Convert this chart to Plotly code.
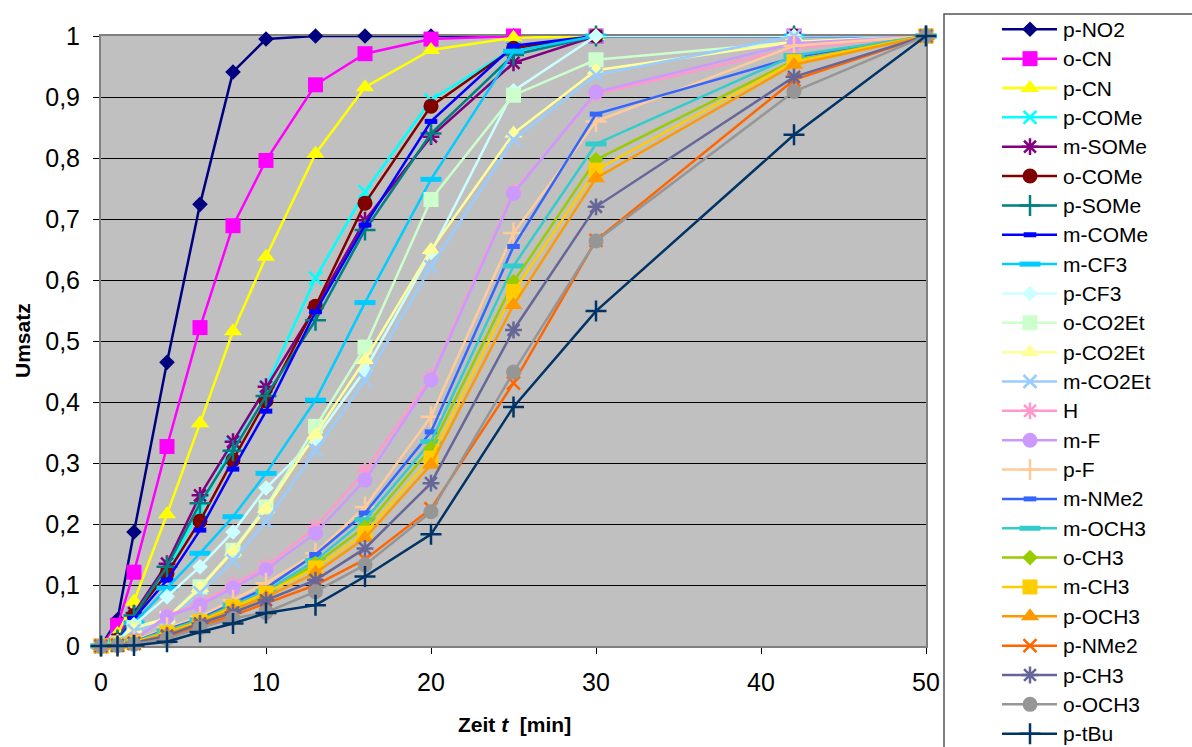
import plotly.graph_objects as go

# ---------------- data ----------------
time_min = [0, 1, 2, 4, 6, 8, 10, 13, 16, 20, 25, 30, 42, 50]

p_NO2   = [0, 0.043, 0.187, 0.465, 0.724, 0.941, 0.995, 1.0, 1.0, 1.0, 1.0, 1.0, 1.0, 1.0]
o_CN    = [0, 0.034, 0.121, 0.327, 0.522, 0.689, 0.796, 0.920, 0.971, 0.995, 1.0, 1.0, 1.0, 1.0]
p_CN    = [0, 0.020, 0.073, 0.216, 0.365, 0.516, 0.638, 0.807, 0.916, 0.977, 0.997, 1.0, 1.0, 1.0]
p_COMe  = [0, 0.010, 0.048, 0.120, 0.225, 0.330, 0.425, 0.603, 0.745, 0.895, 0.980, 1.0, 1.0, 1.0]
m_SOMe  = [0, 0.010, 0.054, 0.135, 0.247, 0.335, 0.425, 0.555, 0.698, 0.835, 0.956, 1.0, 1.0, 1.0]
o_COMe  = [0, 0.010, 0.050, 0.119, 0.205, 0.305, 0.402, 0.557, 0.726, 0.885, 0.980, 1.0, 1.0, 1.0]
p_SOMe  = [0, 0.010, 0.050, 0.130, 0.234, 0.320, 0.410, 0.534, 0.682, 0.840, 0.969, 1.0, 1.0, 1.0]
m_COMe  = [0, 0.008, 0.045, 0.108, 0.190, 0.290, 0.385, 0.548, 0.690, 0.860, 0.984, 1.0, 1.0, 1.0]
m_CF3   = [0, 0.008, 0.038, 0.095, 0.152, 0.212, 0.283, 0.403, 0.563, 0.765, 0.975, 1.0, 1.0, 1.0]
p_CF3   = [0, 0.007, 0.035, 0.081, 0.130, 0.187, 0.259, 0.340, 0.452, 0.645, 0.910, 1.0, 1.0, 1.0]
o_CO2Et = [0, 0.005, 0.030, 0.046, 0.097, 0.157, 0.228, 0.360, 0.490, 0.732, 0.903, 0.961, 0.990, 1.0]
p_CO2Et = [0, 0.005, 0.028, 0.045, 0.095, 0.155, 0.225, 0.346, 0.469, 0.649, 0.840, 0.944, 0.990, 1.0]
m_CO2Et = [0, 0.005, 0.025, 0.040, 0.087, 0.140, 0.204, 0.321, 0.436, 0.622, 0.830, 0.936, 1.0, 1.0]
H       = [0, 0.003, 0.010, 0.050, 0.070, 0.100, 0.130, 0.195, 0.287, 0.440, 0.745, 0.905, 0.980, 1.0]
m_F     = [0, 0.003, 0.010, 0.048, 0.067, 0.095, 0.125, 0.185, 0.272, 0.436, 0.742, 0.908, 0.988, 1.0]
p_F     = [0, 0.002, 0.008, 0.030, 0.048, 0.075, 0.103, 0.152, 0.228, 0.376, 0.677, 0.860, 0.984, 1.0]
m_NMe2  = [0, 0.002, 0.007, 0.027, 0.045, 0.070, 0.095, 0.150, 0.218, 0.351, 0.655, 0.872, 0.965, 1.0]
m_OCH3  = [0, 0.002, 0.007, 0.025, 0.043, 0.067, 0.090, 0.140, 0.207, 0.335, 0.623, 0.823, 0.968, 1.0]
o_CH3   = [0, 0.002, 0.006, 0.023, 0.042, 0.065, 0.085, 0.135, 0.195, 0.324, 0.597, 0.797, 0.960, 1.0]
m_CH3   = [0, 0.002, 0.006, 0.022, 0.040, 0.064, 0.087, 0.128, 0.185, 0.308, 0.581, 0.780, 0.958, 1.0]
p_OCH3  = [0, 0.002, 0.005, 0.020, 0.038, 0.060, 0.080, 0.120, 0.177, 0.297, 0.559, 0.767, 0.953, 1.0]
p_NMe2  = [0, 0.001, 0.004, 0.015, 0.033, 0.050, 0.070, 0.100, 0.142, 0.225, 0.431, 0.665, 0.928, 1.0]
p_CH3   = [0, 0.001, 0.005, 0.017, 0.037, 0.055, 0.075, 0.108, 0.160, 0.267, 0.518, 0.720, 0.933, 1.0]
o_OCH3  = [0, 0.001, 0.003, 0.012, 0.030, 0.045, 0.055, 0.089, 0.133, 0.220, 0.449, 0.664, 0.909, 1.0]
p_tBu   = [0, 0.000, 0.001, 0.007, 0.023, 0.037, 0.054, 0.067, 0.114, 0.183, 0.392, 0.549, 0.838, 1.0]

series_names = ["p-NO2", "o-CN", "p-CN", "p-COMe", "m-SOMe", "o-COMe", "p-SOMe",
                "m-COMe", "m-CF3", "p-CF3", "o-CO2Et", "p-CO2Et", "m-CO2Et", "H",
                "m-F", "p-F", "m-NMe2", "m-OCH3", "o-CH3", "m-CH3", "p-OCH3",
                "p-NMe2", "p-CH3", "o-OCH3", "p-tBu"]
series_values = [p_NO2, o_CN, p_CN, p_COMe, m_SOMe, o_COMe, p_SOMe, m_COMe, m_CF3,
                 p_CF3, o_CO2Et, p_CO2Et, m_CO2Et, H, m_F, p_F, m_NMe2, m_OCH3,
                 o_CH3, m_CH3, p_OCH3, p_NMe2, p_CH3, o_OCH3, p_tBu]

y_tick_vals = [0, 0.1, 0.2, 0.3, 0.4, 0.5, 0.6, 0.7, 0.8, 0.9, 1.0]
y_tick_text = ["0", "0,1", "0,2", "0,3", "0,4", "0,5", "0,6", "0,7", "0,8", "0,9", "1"]
x_tick_vals = [0, 10, 20, 30, 40, 50]

# ---------------- styles ----------------
colors = ["#000080", "#FF00FF", "#FFFF00", "#00FFFF", "#800080", "#800000", "#008080",
          "#0000FF", "#00CCFF", "#CCFFFF", "#CCFFCC", "#FFFF99", "#99CCFF", "#FF99CC",
          "#CC99FF", "#FFCC99", "#3366FF", "#33CCCC", "#99CC00", "#FFCC00", "#FF9900",
          "#FF6600", "#666699", "#969696", "#003366"]
STY = {
    "diamond": dict(symbol="diamond", size=12, lw=0),
    "square": dict(symbol="square", size=15, lw=0),
    "tri": dict(symbol="triangle-up", size=16, lw=0),
    "x": dict(symbol="x-thin-open", size=13, lw=2.5),
    "ast": dict(symbol="asterisk-open", size=14, lw=2.5),
    "circle": dict(symbol="circle", size=15, lw=0),
    "plus": dict(symbol="cross-thin-open", size=15, lw=2.5),
    "dash": dict(symbol="line-ew-open", size=9, lw=5),
    "ldash": dict(symbol="line-ew-open", size=15, lw=5),
}
marker_kinds = ["diamond", "square", "tri", "x", "ast", "circle", "plus", "dash", "ldash",
                "diamond", "square", "tri", "x", "ast", "circle", "plus", "dash", "ldash",
                "diamond", "square", "tri", "x", "ast", "circle", "plus"]

W, HT = 1192, 747
PX_L, PX_R, PX_T, PX_B = 101, 926, 36, 646
FONT = "Liberation Sans, Arial, sans-serif"


def mk(col, kind, opacity=None):
    s = STY[kind]
    d = dict(symbol=s["symbol"], size=s["size"], color=col,
             line=dict(color=col, width=s["lw"]))
    if opacity is not None:
        d["opacity"] = opacity
    return d


fig = go.Figure()

for name, vals, col, kind in zip(series_names, series_values, colors, marker_kinds):
    fig.add_trace(go.Scatter(
        x=time_min, y=vals, mode="lines+markers", name=name,
        line=dict(color=col, width=2.5), marker=mk(col, kind),
        cliponaxis=False, showlegend=False, xaxis="x", yaxis="y"))

# ---------------- manual legend (pixel axes) ----------------
leg_y0, leg_dy = 29.3, 29.35
for i, (name, col, kind) in enumerate(zip(series_names, colors, marker_kinds)):
    yy = leg_y0 + i * leg_dy
    fig.add_trace(go.Scatter(
        x=[1002, 1030, 1057], y=[yy, yy, yy], mode="lines+markers",
        line=dict(color=col, width=2.5), marker=mk(col, kind, opacity=[0, 1, 0]),
        cliponaxis=False, showlegend=False, hoverinfo="skip", xaxis="x2", yaxis="y2"))
    fig.add_annotation(x=1061, y=yy, xref="x2", yref="y2", text=name, showarrow=False,
                       xanchor="left", yanchor="middle",
                       font=dict(family=FONT, size=21, color="black"))

fig.update_layout(
    width=W, height=HT,
    margin=dict(l=0, r=0, t=0, b=0, autoexpand=False),
    paper_bgcolor="white",
    plot_bgcolor="rgba(0,0,0,0)",
    showlegend=False,
    font=dict(family=FONT, color="black"),
    xaxis=dict(domain=[PX_L / W, PX_R / W], range=[0, 50], tickvals=x_tick_vals,
               ticks="outside", ticklen=6, tickwidth=1, tickcolor="black",
               showline=True, linecolor="#808080", linewidth=2, mirror=True,
               showgrid=False, zeroline=False, automargin=False,
               tickfont=dict(family=FONT, size=25, color="black"),
               ticklabelstandoff=7, layer="below traces", anchor="y"),
    yaxis=dict(domain=[(HT - PX_B) / HT, (HT - PX_T) / HT], range=[0, 1],
               tickvals=y_tick_vals, ticktext=y_tick_text,
               ticks="outside", ticklen=6, tickwidth=1, tickcolor="black",
               showline=True, linecolor="#808080", linewidth=2, mirror=True,
               showgrid=True, gridcolor="black", gridwidth=1, zeroline=False,
               automargin=False, tickfont=dict(family=FONT, size=25, color="black"),
               ticklabelstandoff=8, layer="below traces", anchor="x"),
    xaxis2=dict(domain=[0, 1], range=[0, W], visible=False, anchor="y2", fixedrange=True),
    yaxis2=dict(domain=[0, 1], range=[HT, 0], visible=False, anchor="x2", fixedrange=True),
    shapes=[
        dict(type="rect", xref="x domain", yref="y domain", x0=0, x1=1, y0=0, y1=1,
             fillcolor="#C0C0C0", line=dict(width=0), layer="below"),
        dict(type="rect", xref="paper", yref="paper", x0=944 / W, x1=1.02,
             y0=-0.03, y1=(HT - 14) / HT, line=dict(color="#555555", width=1.5),
             fillcolor="rgba(0,0,0,0)", layer="above"),
    ],
)

fig.add_annotation(x=22 / W, y=(HT - 341) / HT, xref="paper", yref="paper",
                   text="<b>Umsatz</b>", textangle=-90, showarrow=False,
                   xanchor="center", yanchor="middle",
                   font=dict(family=FONT, size=21, color="black"))
fig.add_annotation(x=514 / W, y=(HT - 724) / HT, xref="paper", yref="paper",
                   text="<b>Zeit <i>t</i>\u00a0 [min]</b>", showarrow=False,
                   xanchor="center", yanchor="middle",
                   font=dict(family=FONT, size=21, color="black"))

fig.write_html("out.html", config={"displayModeBar": False},
               post_script="document.body.style.margin='0px';")
